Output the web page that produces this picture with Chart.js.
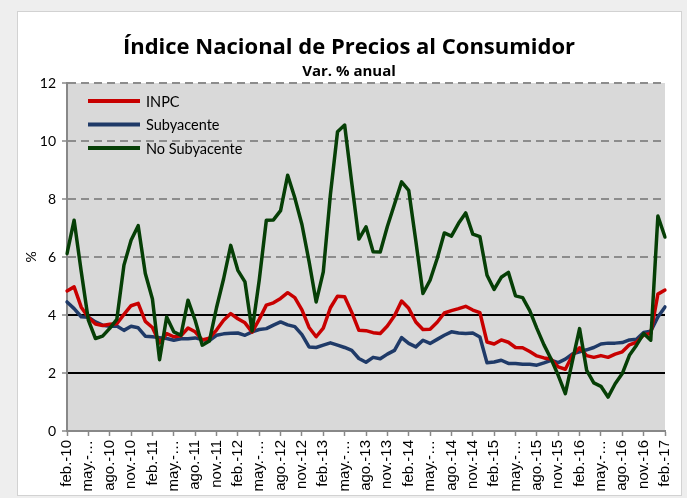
<!DOCTYPE html>
<html lang="es">
<head>
<meta charset="utf-8">
<title>Índice Nacional de Precios al Consumidor</title>
<script src="https://cdn.jsdelivr.net/npm/chart.js@4.4.1/dist/chart.umd.min.js"></script>
<style>
  html, body { margin: 0; padding: 0; background: #eeeeee; }
  canvas { display: block; }
</style>
</head>
<body>
<canvas id="grafica-inpc" width="687" height="498"></canvas>
<script>
// ============================================================
// DATOS: variación % anual, mensual de feb-10 a feb-17
// ============================================================
const MESES = ['ene.', 'feb.', 'mar.', 'abr.', 'may.', 'jun.', 'jul.', 'ago.', 'sep.', 'oct.', 'nov.', 'dic.'];

// Etiquetas visibles del eje X (una cada tres meses)
const etiquetasEje = [
  'feb.-10', 'may.-…', 'ago.-10', 'nov.-10',
  'feb.-11', 'may.-…', 'ago.-11', 'nov.-11',
  'feb.-12', 'may.-…', 'ago.-12', 'nov.-12',
  'feb.-13', 'may.-…', 'ago.-13', 'nov.-13',
  'feb.-14', 'may.-…', 'ago.-14', 'nov.-14',
  'feb.-15', 'may.-…', 'ago.-15', 'nov.-15',
  'feb.-16', 'may.-…', 'ago.-16', 'nov.-16',
  'feb.-17',
];

const inpc = [
  4.83, 4.97, 4.27, 3.92, 3.69, 3.64, 3.68, 3.70, 4.02, 4.32, 4.40,
  3.78, 3.57, 3.04, 3.36, 3.25, 3.28, 3.55, 3.42, 3.14, 3.20, 3.48, 3.82,
  4.05, 3.87, 3.73, 3.41, 3.85, 4.34, 4.42, 4.57, 4.77, 4.60, 4.18, 3.57,
  3.25, 3.55, 4.25, 4.65, 4.63, 4.09, 3.47, 3.46, 3.39, 3.36, 3.62, 3.97,
  4.48, 4.23, 3.76, 3.50, 3.51, 3.75, 4.07, 4.15, 4.22, 4.30, 4.17, 4.08,
  3.07, 3.00, 3.14, 3.06, 2.88, 2.87, 2.74, 2.59, 2.52, 2.48, 2.21, 2.13,
  2.61, 2.87, 2.60, 2.54, 2.60, 2.54, 2.65, 2.73, 2.97, 3.06, 3.31, 3.36,
  4.72, 4.86,
];

const subyacente = [
  4.45, 4.22, 3.94, 3.92, 3.76, 3.65, 3.61, 3.62, 3.47, 3.61, 3.56,
  3.27, 3.25, 3.22, 3.19, 3.13, 3.18, 3.18, 3.21, 3.15, 3.12, 3.30, 3.35,
  3.37, 3.38, 3.30, 3.42, 3.50, 3.53, 3.65, 3.76, 3.66, 3.60, 3.32, 2.90,
  2.88, 2.96, 3.04, 2.96, 2.88, 2.78, 2.50, 2.37, 2.54, 2.49, 2.65, 2.78,
  3.22, 3.02, 2.90, 3.13, 3.02, 3.16, 3.30, 3.42, 3.38, 3.36, 3.38, 3.24,
  2.35, 2.38, 2.44, 2.33, 2.33, 2.30, 2.30, 2.27, 2.35, 2.44, 2.36, 2.48,
  2.66, 2.73, 2.80, 2.88, 3.00, 3.03, 3.03, 3.05, 3.14, 3.16, 3.40, 3.44,
  3.93, 4.28,
];

const noSubyacente = [
  6.12, 7.27, 5.50, 3.82, 3.19, 3.27, 3.54, 3.85, 5.72, 6.58, 7.08,
  5.43, 4.55, 2.46, 3.93, 3.42, 3.30, 4.51, 3.82, 2.96, 3.10, 4.25, 5.25,
  6.40, 5.54, 5.14, 3.45, 5.20, 7.27, 7.28, 7.60, 8.82, 8.04, 7.12, 5.85,
  4.45, 5.49, 8.15, 10.32, 10.55, 8.55, 6.62, 7.04, 6.18, 6.17, 7.05, 7.82,
  8.59, 8.30, 6.55, 4.74, 5.20, 5.95, 6.83, 6.72, 7.16, 7.52, 6.79, 6.70,
  5.37, 4.88, 5.30, 5.47, 4.66, 4.60, 4.15, 3.54, 2.97, 2.48, 1.92, 1.29,
  2.42, 3.53, 2.09, 1.66, 1.54, 1.17, 1.63, 1.98, 2.61, 2.96, 3.36, 3.13,
  7.41, 6.69,
];

// Categorías mensuales: feb-10 ... feb-17
const periodos = [];
for (let anio = 2010; anio <= 2017; anio++) {
  for (let m = 0; m < 12; m++) {
    if (anio === 2010 && m < 1) continue;
    if (anio === 2017 && m > 1) break;
    periodos.push(`${MESES[m]}-${String(anio).slice(2)}`);
  }
}

const FUENTE = 'Lato, "Open Sans", sans-serif';
const FUENTE_TITULO = '"Open Sans", Lato, sans-serif';
const FUENTE_EJE_X = '"Liberation Sans", Arial, sans-serif';
const COLORES = { inpc: '#c80000', sub: '#1f3a68', noSub: '#063f06' };

// ============================================================
// PLUGIN: fondo, marco, títulos y leyenda dentro del área
// ============================================================
const marcoGrafica = {
  id: 'marcoGrafica',
  beforeDraw(chart) {
    const { ctx, chartArea: a } = chart;
    ctx.save();
    ctx.fillStyle = '#eeeeee';
    ctx.fillRect(0, 0, chart.width, chart.height);
    ctx.fillStyle = '#ffffff';
    ctx.fillRect(17, 11, 665, 485);
    ctx.strokeStyle = '#d2d2d2';
    ctx.lineWidth = 1;
    ctx.strokeRect(17.5, 11.5, 664, 484);
    ctx.fillStyle = '#d9d9d9';
    ctx.fillRect(a.left, a.top, a.right - a.left, a.bottom - a.top);
    ctx.restore();
  },
  afterDraw(chart) {
    const { ctx, chartArea: a } = chart;
    ctx.save();
    ctx.fillStyle = '#000';
    ctx.textAlign = 'center';
    ctx.textBaseline = 'alphabetic';
    ctx.font = `bold 22px ${FUENTE_TITULO}`;
    ctx.fillText('Índice Nacional de Precios al Consumidor', 349, 54);
    ctx.font = `bold 15px ${FUENTE_TITULO}`;
    ctx.fillText('Var. % anual', 349, 76);

    // leyenda
    ctx.textAlign = 'left';
    ctx.textBaseline = 'middle';
    ctx.font = `14.5px ${FUENTE}`;
    chart.data.datasets.forEach((ds, i) => {
      const y = a.top + 18 + i * 23.5;
      ctx.strokeStyle = ds.borderColor;
      ctx.lineWidth = 4;
      ctx.beginPath();
      ctx.moveTo(a.left + 21, y);
      ctx.lineTo(a.left + 73, y);
      ctx.stroke();
      ctx.fillText(ds.label, a.left + 79, y + 1);
    });
    ctx.restore();
  },
};

function colorRejilla(ctx) {
  const v = ctx.tick ? ctx.tick.value : null;
  if (v === 2 || v === 4) return '#000000';
  return '#8c8c8c';
}

new Chart(document.getElementById('grafica-inpc'), {
  type: 'line',
  data: {
    labels: periodos,
    datasets: [
      { label: 'INPC', data: inpc, borderColor: COLORES.inpc, order: 1 },
      { label: 'Subyacente', data: subyacente, borderColor: COLORES.sub, order: 2 },
      { label: 'No Subyacente', data: noSubyacente, borderColor: COLORES.noSub, order: 0 },
    ],
  },
  options: {
    responsive: false,
    animation: false,
    layout: { padding: { top: 83, right: 21, bottom: 0, left: 0 } },
    elements: {
      point: { radius: 0 },
      line: { borderWidth: 3.5, tension: 0, fill: false, borderJoinStyle: 'round', borderCapStyle: 'round' },
    },
    plugins: {
      legend: { display: false },
      tooltip: { enabled: false },
    },
    scales: {
      x: {
        offset: false,
        afterFit: (s) => { s.height = 67; },
        grid: {
          drawOnChartArea: false,
          tickLength: 5,
          tickWidth: 1.5,
          tickColor: (ctx) => (ctx.index % 3 === 0 ? '#888888' : 'rgba(0,0,0,0)'),
        },
        border: { color: '#888888', width: 2 },
        ticks: {
          autoSkip: false,
          minRotation: 90,
          maxRotation: 90,
          padding: 4,
          color: '#000',
          font: { family: FUENTE_EJE_X, size: 15 },
          callback: (valor, i) => (i % 3 === 0 ? etiquetasEje[i / 3] : ''),
        },
      },
      y: {
        min: 0,
        max: 12,
        afterFit: (s) => { s.width = 67; },
        title: {
          display: true,
          text: '%',
          color: '#000',
          font: { family: FUENTE, size: 14 },
          padding: { top: 23, bottom: 0 },
        },
        grid: {
          color: colorRejilla,
          lineWidth: 2,
          tickLength: 5,
          tickWidth: 1.5,
          tickColor: '#888888',
        },
        border: {
          color: '#888888',
          width: 2,
          dash: (ctx) => (ctx.tick && ctx.tick.value >= 6 ? [8, 5] : []),
        },
        ticks: {
          stepSize: 2,
          padding: 6,
          color: '#000',
          font: { family: FUENTE, size: 14 },
        },
      },
    },
  },
  plugins: [marcoGrafica],
});
</script>
</body>
</html>
